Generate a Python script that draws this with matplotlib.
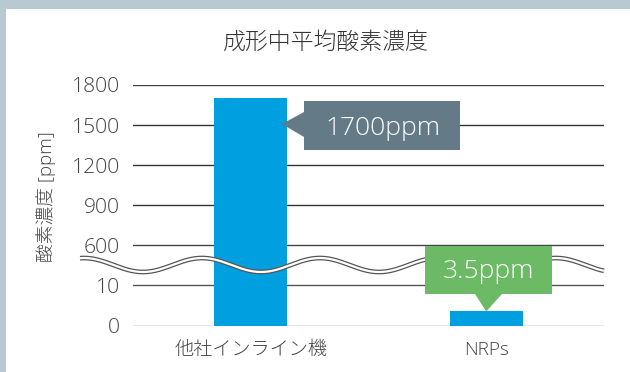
import numpy as np
import matplotlib
matplotlib.use("Agg")
import matplotlib.pyplot as plt
from matplotlib.patches import Rectangle, Polygon

plt.rcParams['font.family'] = ['Open Sans', 'Noto Sans CJK JP', 'DejaVu Sans']

# ---- data ----
title = "成形中平均酸素濃度"
categories = ["他社インライン機", "NRPs"]
values = [1700, 3.5]
value_labels = ["1700ppm", "3.5ppm"]
tick_values = [0, 10, 600, 900, 1200, 1500, 1800]
tick_labels = ["0", "10", "600", "900", "1200", "1500", "1800"]
ylabel = "酸素濃度 [ppm]"

W, H = 630, 372
fig = plt.figure(figsize=(W / 100, H / 100), dpi=100)
fig.patch.set_facecolor("#b9c9d1")

def fx(x):
    return x / W

def fy(y):
    return 1 - y / H

# white panel
fig.add_artist(Rectangle((fx(6), 0), 1 - fx(6), fy(9), transform=fig.transFigure,
                         facecolor="white", edgecolor="none", zorder=-10))

ax = fig.add_axes([fx(133), fy(325.5), fx(604) - fx(133), (325.5 - 85) / H])
ax.set_facecolor("none")

pos = np.arange(len(tick_values), dtype=float)
tv = np.array(tick_values, dtype=float)
ax.set_yscale('function', functions=(lambda v: np.interp(v, tv, pos),
                                     lambda p: np.interp(p, pos, tv)))
ax.set_ylim(0, 1800)
ax.set_xlim(-0.5, 1.5)

grid_colors = ["#888888", "#555555", "#444444", "#333333", "#333333", "#333333", "#444444"]
for t, c in zip(tick_values, grid_colors):
    ax.axhline(t, color=c, lw=1.0, zorder=1)

x = np.arange(len(categories))
bars = ax.bar(x, values, width=0.31, color="#00a0e0", zorder=2)

ax.set_yticks(tick_values)
ax.set_yticklabels(tick_labels, fontsize=15.2, color="#444444", fontweight="light")
ax.set_xticks(x)
ax.set_xticklabels(categories, fontsize=13.8, color="#444444", fontweight="light")
ax.tick_params(axis='y', length=0, pad=9.5)
ax.tick_params(axis='x', length=0, pad=11)
for s in ax.spines.values():
    s.set_visible(False)

ax.set_ylabel(ylabel, fontsize=13.5, color="#444444", fontweight="light")
ax.yaxis.set_label_coords(-0.164, 0.534)

fig.text(fx(326), fy(43), title, ha="center", va="center", fontsize=16.5,
         color="#333333", fontweight="light")

# wavy axis break (double line)
wx = np.linspace(80, 604, 400)
wy = 265 + 7 * np.cos(2 * np.pi * (wx - 143) / 118)
ax.plot(fx(wx), fy(wy), color="#555555", lw=3.4, transform=fig.transFigure,
        clip_on=False, zorder=5, solid_capstyle="butt")
ax.plot(fx(wx), fy(wy), color="white", lw=1.6, transform=fig.transFigure,
        clip_on=False, zorder=6, solid_capstyle="butt")

fig.canvas.draw()

# callout for first bar (pointing left)
c1 = "#647b87"
box1 = Rectangle((fx(304), fy(150)), fx(460) - fx(304), (150 - 101) / H,
                 transform=fig.transFigure, facecolor=c1, edgecolor="none")
tri1 = Polygon([[fx(304), fy(112)], [fx(282), fy(124)], [fx(304), fy(137)]],
               closed=True, transform=fig.transFigure, facecolor=c1, edgecolor="none")
for p in (box1, tri1):
    p.set_zorder(7)
    p.set_clip_on(False)
    ax.add_artist(p)
ax.text(fx(383), fy(135), value_labels[0], transform=fig.transFigure, ha="center",
        va="baseline", fontsize=19, color="white", fontweight="light", zorder=8)

# callout for second bar (pointing down to bar top)
c2 = "#6cb966"
tip = ax.transData.transform((x[1], values[1]))
tip_x, tip_y = tip[0], tip[1]
box2 = Rectangle((fx(425), fy(294)), fx(552) - fx(425), (294 - 246) / H,
                 transform=fig.transFigure, facecolor=c2, edgecolor="none")
tri2 = Polygon([[fx(475), fy(294)], [tip_x / W, tip_y / H], [fx(502), fy(294)]],
               closed=True, transform=fig.transFigure, facecolor=c2, edgecolor="none")
for p in (box2, tri2):
    p.set_zorder(7)
    p.set_clip_on(False)
    ax.add_artist(p)
ax.text(fx(488.5), fy(278), value_labels[1], transform=fig.transFigure, ha="center",
        va="baseline", fontsize=19, color="white", fontweight="light", zorder=8)

fig.savefig("out.png", dpi=100)
